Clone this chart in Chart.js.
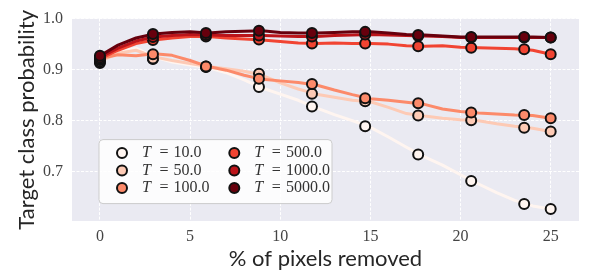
<!DOCTYPE html>
<html>
<head>
<meta charset="utf-8">
<script src="https://cdn.jsdelivr.net/npm/chart.js@4/dist/chart.umd.min.js"></script>
<style>
  html, body { margin: 0; padding: 0; background: #fff; }
</style>
</head>
<body>
<canvas id="chart" width="598" height="279"></canvas>
<script>
// temperatures and Reds colormap colours
const temps = ["10.0", "50.0", "100.0", "500.0", "1000.0", "5000.0"];
const colors = ["#fff5f0", "#fdcab5", "#fc8a6a", "#f14432", "#bc141a", "#67000d"];

// curve samples (% of pixels removed)
const lineX = [0, 1, 2, 3, 4, 5, 6, 7, 8, 9, 10, 11, 12, 13, 14, 15, 16, 17, 18, 19, 20, 21, 22, 23, 24, 25];
const lineT10 = [0.913, 0.935, 0.942, 0.925, 0.915, 0.909, 0.904, 0.894, 0.880, 0.864, 0.852, 0.840, 0.825, 0.812, 0.800, 0.787, 0.768, 0.748, 0.729, 0.713, 0.694, 0.676, 0.659, 0.644, 0.633, 0.627];
const lineT50 = [0.916, 0.932, 0.938, 0.925, 0.918, 0.912, 0.906, 0.902, 0.897, 0.889, 0.874, 0.862, 0.852, 0.846, 0.840, 0.837, 0.826, 0.814, 0.809, 0.805, 0.802, 0.800, 0.794, 0.789, 0.785, 0.779];
const lineT100 = [0.922, 0.929, 0.927, 0.931, 0.928, 0.918, 0.906, 0.899, 0.889, 0.881, 0.878, 0.875, 0.870, 0.860, 0.851, 0.843, 0.840, 0.836, 0.832, 0.823, 0.818, 0.815, 0.813, 0.811, 0.810, 0.805];
const lineT500 = [0.921, 0.938, 0.951, 0.958, 0.962, 0.965, 0.965, 0.962, 0.960, 0.958, 0.955, 0.952, 0.951, 0.952, 0.951, 0.951, 0.950, 0.947, 0.946, 0.947, 0.944, 0.943, 0.942, 0.941, 0.938, 0.930];
const lineT1000 = [0.924, 0.942, 0.956, 0.964, 0.967, 0.969, 0.968, 0.967, 0.967, 0.967, 0.966, 0.965, 0.965, 0.967, 0.968, 0.969, 0.968, 0.967, 0.966, 0.965, 0.963, 0.963, 0.963, 0.963, 0.963, 0.963];
const lineT5000 = [0.927, 0.948, 0.962, 0.970, 0.973, 0.974, 0.972, 0.974, 0.975, 0.976, 0.973, 0.972, 0.972, 0.973, 0.974, 0.974, 0.972, 0.969, 0.968, 0.966, 0.964, 0.964, 0.964, 0.964, 0.964, 0.963];

// marker samples
const markerX = [0, 2.94, 5.88, 8.82, 11.76, 14.71, 17.65, 20.59, 23.53, 25];
const markT10 = [0.913, 0.921, 0.905, 0.866, 0.828, 0.789, 0.734, 0.682, 0.637, 0.627];
const markT50 = [0.916, 0.922, 0.906, 0.892, 0.853, 0.838, 0.810, 0.801, 0.786, 0.779];
const markT100 = [0.919, 0.930, 0.906, 0.882, 0.872, 0.844, 0.834, 0.816, 0.811, 0.805];
const markT500 = [0.921, 0.958, 0.965, 0.959, 0.951, 0.951, 0.946, 0.943, 0.940, 0.930];
const markT1000 = [0.924, 0.964, 0.968, 0.967, 0.965, 0.969, 0.966, 0.963, 0.963, 0.963];
const markT5000 = [0.927, 0.970, 0.972, 0.976, 0.972, 0.974, 0.968, 0.964, 0.964, 0.963];

const xTicks = [0, 5, 10, 15, 20, 25];
const yTicks = [0.7, 0.8, 0.9, 1.0];

const lines = [lineT10, lineT50, lineT100, lineT500, lineT1000, lineT5000];
const marks = [markT10, markT50, markT100, markT500, markT1000, markT5000];

let datasets = [];
for (let i = 0; i < temps.length; i++) {
  datasets.push({
    type: "line",
    data: lineX.map((x, j) => ({ x: x, y: lines[i][j] })),
    borderColor: colors[i],
    borderWidth: 3,
    pointRadius: 0,
    tension: 0,
    borderCapStyle: "round",
    borderJoinStyle: "round",
    order: 2 * (temps.length - 1 - i) + 1,
  });
  datasets.push({
    type: "scatter",
    data: markerX.map((x, j) => ({ x: x, y: marks[i][j] })),
    backgroundColor: colors[i],
    borderColor: "#111111",
    borderWidth: 2,
    pointRadius: 5,
    order: 2 * (temps.length - 1 - i),
  });
}

const plotBackground = {
  id: "plotBackground",
  beforeDraw(chart) {
    const { ctx, chartArea: a } = chart;
    ctx.save();
    ctx.fillStyle = "#eaeaf2";
    ctx.fillRect(a.left, a.top, a.right - a.left, a.bottom - a.top);
    ctx.restore();
  },
};

const insetLegend = {
  id: "insetLegend",
  afterDraw(chart) {
    const { ctx, chartArea: a } = chart;
    const bx = a.left + 27, by = a.top + 121, bw = 233, bh = 64;
    ctx.save();
    ctx.beginPath();
    ctx.roundRect(bx, by, bw, bh, 4);
    ctx.fillStyle = "rgba(255,255,255,0.85)";
    ctx.fill();
    ctx.strokeStyle = "#cccccc";
    ctx.lineWidth = 1;
    ctx.stroke();
    ctx.textBaseline = "middle";
    for (let i = 0; i < temps.length; i++) {
      const col = Math.floor(i / 3), row = i % 3;
      const mx = bx + 23 + col * 112.3;
      const my = by + 13.5 + row * 17.5;
      ctx.beginPath();
      ctx.arc(mx, my, 5, 0, Math.PI * 2);
      ctx.fillStyle = colors[i];
      ctx.fill();
      ctx.lineWidth = 2;
      ctx.strokeStyle = "#111111";
      ctx.stroke();
      const tx = mx + 20;
      ctx.fillStyle = "#333333";
      ctx.font = 'italic 16px "Liberation Serif"';
      ctx.fillText("T", tx, my);
      ctx.font = '16px "Liberation Serif"';
      ctx.fillText("=", tx + 17.5, my);
      ctx.fillText(temps[i], tx + 31.6, my);
    }
    ctx.restore();
  },
};

new Chart(document.getElementById("chart"), {
  data: { datasets: datasets },
  plugins: [plotBackground, insetLegend],
  options: {
    responsive: false,
    animation: false,
    devicePixelRatio: 1,
    layout: { padding: { left: 0, top: 14, right: 19, bottom: 0 } },
    plugins: { legend: { display: false }, tooltip: { enabled: false } },
    scales: {
      x: {
        type: "linear",
        min: -1.55,
        max: 26.57,
        afterFit: (scale) => { scale.height = 58; },
        afterBuildTicks: (scale) => { scale.ticks = xTicks.map((v) => ({ value: v })); },
        border: { display: false, dash: [3, 1.5] },
        grid: { color: "#ffffff", lineWidth: 1, drawTicks: false },
        ticks: {
          padding: 6,
          color: "#444444",
          font: { family: '"Liberation Serif"', size: 16 },
          callback: (v) => String(v),
        },
        title: {
          display: true,
          text: "% of pixels removed",
          color: "#262626",
          font: { family: "Lato", size: 22 },
          padding: { top: 0, bottom: 7 },
        },
      },
      y: {
        type: "linear",
        min: 0.6035,
        max: 1.0,
        afterFit: (scale) => { scale.width = 72; },
        afterBuildTicks: (scale) => { scale.ticks = yTicks.map((v) => ({ value: v })); },
        border: { display: false, dash: [3, 1.5] },
        grid: { color: "#ffffff", lineWidth: 1, drawTicks: false },
        ticks: {
          padding: 9,
          color: "#444444",
          font: { family: '"Liberation Serif"', size: 16 },
          callback: (v) => v.toFixed(1),
        },
        title: {
          display: true,
          text: "Target class probability",
          color: "#262626",
          font: { family: "Lato", size: 22 },
          padding: { top: 14, bottom: 0 },
        },
      },
    },
  },
});
</script>
</body>
</html>
